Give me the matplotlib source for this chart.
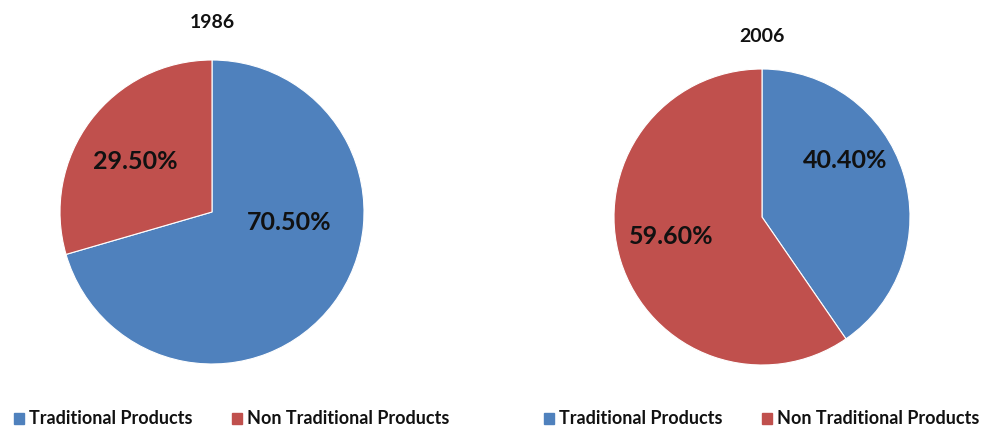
import matplotlib
matplotlib.use("Agg")
import matplotlib.pyplot as plt
from matplotlib.patches import Patch

categories = ["Traditional Products", "Non Traditional Products"]
years = ["1986", "2006"]
values_1986 = [70.50, 29.50]
values_2006 = [40.40, 59.60]
colors = ["#4F81BD", "#C0504D"]

W, H = 989, 429
fig = plt.figure(figsize=(W / 100, H / 100), dpi=100)
fig.patch.set_facecolor("white")
plt.rcParams["font.family"] = ["Lato", "DejaVu Sans"]

def add_pie(cx, cy, r, vals, title, title_y, label_pos, leg_x):
    ax = fig.add_axes([(cx - r) / W, (H - cy - r) / H, 2 * r / W, 2 * r / H])
    wedges, texts, autotexts = ax.pie(
        vals, colors=colors, startangle=90, counterclock=False,
        autopct=lambda p: f"{p:.2f}%", radius=1.0,
        wedgeprops=dict(linewidth=0.8, edgecolor="white"),
        textprops=dict(fontsize=18, fontweight="bold", color="#111111"))
    for t, pos in zip(autotexts, label_pos):
        t.set_position(pos)
        t.set_ha("center")
        t.set_va("center")
    ax.set_xlim(-1, 1)
    ax.set_ylim(-1, 1)
    ax.set_aspect("equal")
    fig.text(cx / W, 1 - title_y / H, title, ha="center", va="center",
             fontsize=14, fontweight="bold", color="#111111")
    handles = [Patch(facecolor=c, edgecolor=c) for c in colors]
    leg = fig.legend(handles, categories, loc="center left", ncol=2,
                     bbox_to_anchor=(leg_x / W, 1 - 419 / H), frameon=False,
                     prop=dict(size=13, weight="bold"),
                     handlelength=0.55, handleheight=0.55,
                     handletextpad=0.3, columnspacing=2.15, borderpad=0,
                     borderaxespad=0)
    for t in leg.get_texts():
        t.set_color("#111111")

add_pie(212, 212, 152, values_1986, years[0], 22,
        [(0.51, -0.066), (-0.507, 0.33)], 14)
add_pie(762, 217, 148, values_2006, years[1], 37,
        [(0.56, 0.385), (-0.61, -0.135)], 544)

fig.savefig("out.png", dpi=100, facecolor="white")
